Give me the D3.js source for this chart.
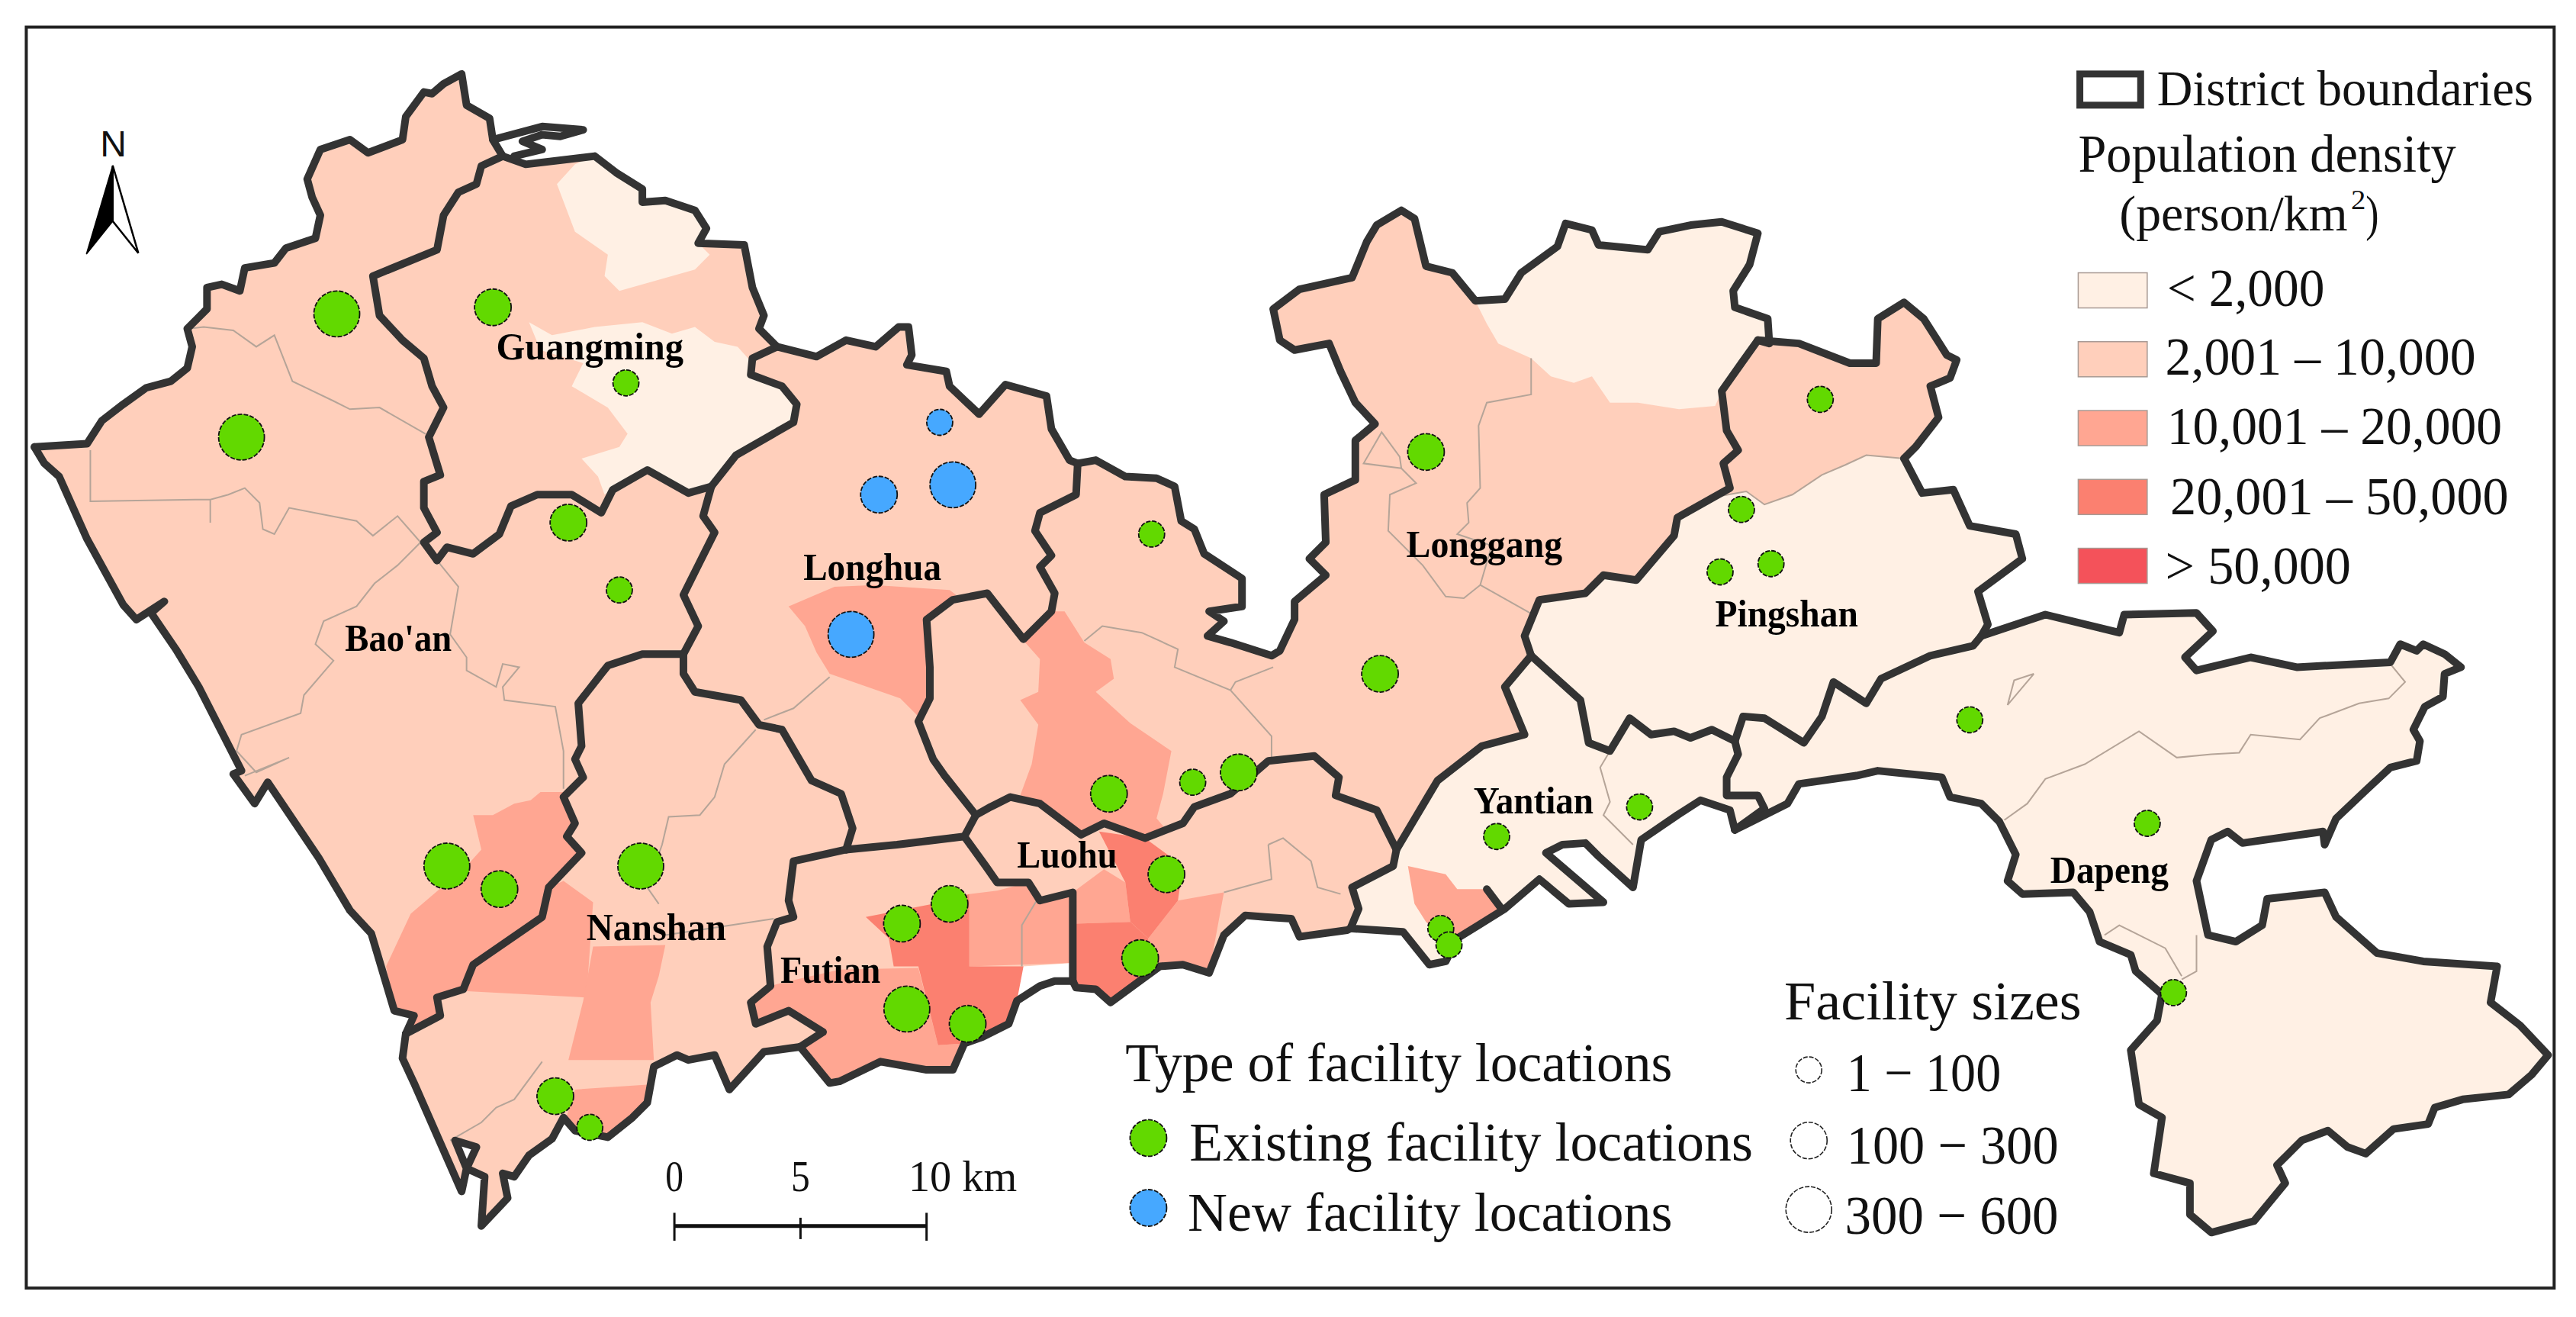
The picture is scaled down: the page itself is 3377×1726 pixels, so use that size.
<!DOCTYPE html>
<html>
<head>
<meta charset="utf-8">
<style>
  html, body { margin: 0; background: #fff; }
  svg { display: block; }
  text { font-family: "Liberation Serif", serif; fill: #111; }
  .district { font-weight: bold; fill: #000; }
</style>
<script src="https://cdn.jsdelivr.net/npm/d3@7"></script>
</head>
<body>
<svg id="map" width="3377" height="1726"></svg>
<script>

// district boundary arcs, shared between the polygons
var baoanNorth = [[21,272],[53,270],[62,256],[75,246],[89,236],[104,232],[114,224],[117,211],[114,200],[126,188],[126,175],[135,173],[146,177],[149,163],[167,160],[174,151],[192,145],[195,131],[190,120],[187,109],[195,91],[213,85],[224,93],[245,85],[247,71],[258,56],[263,57],[270,51],[281,45],[284,64],[298,72],[300,85],[306,95]];
var baoanGuangming = [[306,95],[293,101],[290,112],[279,117],[270,131],[266,152],[227,168],[231,192],[245,207],[258,218],[263,235],[270,248],[261,266],[268,289],[258,293],[258,309],[266,324],[258,330],[266,341]];
var guangmingSouth = [[266,341],[272,333],[288,337],[304,325],[311,308],[327,301],[348,301],[366,312],[373,298],[394,286],[419,300],[433,296]];
var baoanLonghua = [[433,296],[428,314],[435,324],[425,344],[416,362],[425,381],[416,398]];
var baoanNanshan = [[416,398],[391,398],[370,405],[366,410],[352,428],[354,454],[350,462],[355,473],[343,485],[350,501],[345,509],[354,519],[334,540],[330,558],[288,587],[282,602],[266,607],[268,618],[247,629]];
var baoanCoast = [[21,272],[27,282],[36,290],[53,328],[75,368],[83,377],[100,366],[92,373],[107,395],[121,418],[147,469],[142,471],[155,489],[163,476],[194,522],[213,554],[226,568],[240,615],[252,618],[247,629]];
var nanshanCoast = [[247,629],[245,644],[252,659],[281,725],[284,711],[277,694],[290,698],[284,711],[295,716],[293,746],[309,729],[306,714],[313,716],[322,703],[336,693],[343,680],[350,688],[370,692],[385,680],[394,671],[398,649],[412,642],[419,645],[435,642],[444,663],[465,640],[480,638],[487,637]];
var guangmingEast = [[306,95],[320,100],[362,95],[375,105],[391,115],[391,123],[405,122],[423,128],[430,139],[425,148],[453,149],[458,175],[465,192],[462,200],[473,211]];
var guangmingLonghua = [[473,211],[458,218],[457,228],[476,235],[485,246],[483,257],[448,277],[433,296]];
var longhuaNorth = [[473,211],[497,217],[515,207],[533,211],[547,199],[553,199],[555,216],[552,222],[576,226],[578,235],[596,252],[612,234],[637,241],[640,261],[651,280],[656,282]];
var longhuaEast = [[656,282],[655,301],[633,312],[630,323],[640,338],[633,345],[642,361],[640,372],[623,389],[608,370],[601,361],[580,365],[564,377],[566,406],[566,425],[559,439],[568,462],[575,472],[594,496]];
var luohuFutianTop = [[594,496],[587,509]];
var futianTop = [[587,509],[546,514],[515,517]];
var longhuaNanshan = [[416,398],[416,410],[423,421],[451,426],[462,441],[476,444],[494,475],[512,483],[519,504],[515,517]];
var nanshanFutian = [[515,517],[483,524],[480,548],[483,558],[473,561],[467,576],[469,600],[457,610],[460,623],[480,615],[501,628],[487,637]];
var futianCoast = [[487,637],[505,659],[511,658],[536,646],[564,651],[580,651],[587,635],[598,631],[614,623],[619,609],[633,600],[642,597],[653,597]];
var luohuFutian = [[587,509],[600,527],[607,537],[626,537],[633,548],[653,543],[653,597]];
var luohuCoast = [[653,597],[655,601],[667,602],[676,610],[695,596],[706,588],[720,587],[736,592],[745,569],[758,557],[770,558],[786,559],[791,570],[820,566],[822,565]];
var luohuYantian = [[850,517],[848,527],[823,540],[827,553],[822,565]];
var longgangLuohu = [[850,517],[838,493],[813,484],[815,473],[800,460],[772,463],[749,483],[727,491],[720,501],[697,510],[672,501],[658,508],[633,489],[615,485],[603,491],[594,496]];
var longgangNorth = [[656,282],[667,280],[685,290],[704,291],[715,296],[719,317],[727,322],[733,337],[756,352],[756,369],[736,372],[745,378],[735,387],[749,391],[774,399],[779,396],[788,377],[788,366],[807,350],[797,340],[807,330],[806,301],[825,292],[825,268],[837,258],[825,245],[816,226],[809,209],[788,213],[779,207],[775,188],[791,176],[823,169],[832,147],[838,137],[853,128],[861,133],[868,162],[884,166],[898,183],[916,182],[926,166],[948,150],[953,136],[969,140],[973,149],[1003,152],[1010,141],[1029,137],[1048,135],[1070,142],[1065,161],[1055,177],[1056,187],[1076,194],[1077,209],[1070,207]];
var longgangPingshan = [[1070,207],[1060,221],[1048,238],[1051,262],[1058,274],[1049,282],[1053,297],[1021,315],[1019,326],[996,353],[976,350],[965,361],[937,365],[928,387],[932,399]];
var yantianLonggang = [[932,399],[916,418],[928,447],[902,454],[875,475],[869,485],[850,517]];
var yantianPingshan = [[932,399],[962,426],[967,452],[980,457],[992,437],[1005,447],[1019,445],[1029,449],[1042,444],[1056,451]];
var yantianDapeng = [[1056,451],[1058,459],[1051,473],[1051,484],[1070,484],[1074,492],[1056,505]];
var yantianCoast = [[1056,505],[1053,493],[1035,487],[1021,496],[999,511],[994,540],[973,521],[965,513],[951,514],[941,519],[976,549],[955,550],[937,535],[916,553],[900,563],[887,571],[880,585],[870,587],[854,567],[822,565]];
var dapengCoast = [[1056,505],[1088,489],[1095,477],[1130,472],[1143,469],[1182,473],[1187,485],[1206,489],[1217,500],[1227,520],[1222,536],[1231,544],[1262,543],[1272,555],[1278,573],[1297,581],[1300,591],[1316,605],[1313,621],[1297,639],[1302,672],[1316,680],[1311,714],[1333,720],[1333,739],[1346,750],[1372,743],[1391,720],[1386,709],[1401,694],[1417,688],[1429,698],[1440,702],[1457,687],[1478,684],[1482,674],[1499,669],[1527,666],[1541,654],[1551,642],[1534,624],[1516,610],[1520,588],[1475,585],[1447,580],[1422,558],[1415,543],[1380,547],[1377,563],[1361,573],[1344,569],[1337,536],[1346,511],[1356,506],[1365,513],[1414,506],[1415,514],[1422,498],[1440,481],[1455,467],[1471,463],[1473,451],[1469,444],[1476,430],[1487,424],[1488,410],[1498,406],[1488,398],[1475,392],[1471,396],[1461,392],[1455,403],[1398,406],[1370,400],[1337,408],[1330,400],[1347,384],[1337,373],[1293,374],[1290,385],[1245,374],[1206,387]];
var pingshanDapeng = [[1206,387],[1201,393],[1175,399],[1145,413],[1136,428],[1116,415],[1109,436],[1098,452],[1074,437],[1061,436],[1056,451]];
var kengziNorth = [[1070,207],[1095,209],[1126,221],[1142,221],[1143,194],[1159,184],[1171,194],[1185,216],[1191,219],[1187,230],[1175,235],[1180,254],[1166,272],[1159,279]];
var pingshanEast = [[1159,279],[1170,300],[1189,298],[1199,320],[1227,325],[1231,340],[1204,360],[1210,380],[1206,387]];
var bayStub = [[300,85],[330,77],[355,79],[341,83],[330,82],[318,86],[330,91],[313,95]];
var portStub = [[905,541],[914,553]];

// sub-district lines
var kengziSouth = [[1159,279],[1136,277],[1123,283],[1109,289],[1091,301],[1074,307],[1063,299],[1046,302]];
var subLines = [
  [[114,200],[124,199],[142,201],[156,211],[167,204],[178,232],[203,244],[213,249],[231,248],[259,264]],
  [[55,274],[55,305],[121,304],[128,304],[128,318],[128,304],[139,301],[149,297],[158,306],[160,322],[167,325],[176,309],[217,317],[227,326],[242,314],[256,330]],
  [[256,330],[242,344],[228,355],[217,369],[197,378],[192,392],[203,402],[185,423],[183,434],[147,447],[144,457],[156,470],[176,461],[149,472]],
  [[266,341],[279,357],[274,386],[284,400],[284,408],[302,418],[306,404],[316,406],[306,418],[307,426],[338,430],[343,457],[343,480]],
  [[460,444],[441,465],[435,485],[426,496],[407,497],[403,514],[394,540],[401,550]],
  [[405,569],[471,559]],
  [[330,646],[313,669],[302,674],[293,683],[274,694]],
  [[465,438],[483,431],[505,412]],
  [[660,390],[671,381],[695,385],[717,395],[715,406],[749,420],[774,448],[774,464]],
  [[775,406],[752,415],[749,420]],
  [[932,218],[932,240],[905,245],[900,259],[901,297],[893,306],[894,318],[887,325],[908,332],[901,356],[891,364],[880,363],[866,344],[845,323],[846,301],[862,294],[853,285],[830,282],[841,263],[852,278],[853,285]],
  [[901,356],[933,374]],
  [[772,514],[781,510],[798,524],[802,540],[816,544]],
  [[772,514],[774,535],[745,543]],
  [[1220,499],[1234,489],[1245,474],[1269,465],[1302,445],[1325,461],[1346,459],[1363,458],[1370,447],[1400,450],[1412,437],[1436,428],[1454,425],[1464,415],[1455,404]],
  [[1238,410],[1222,429],[1226,414],[1238,410]],
  [[1281,569],[1290,563],[1318,577],[1328,594]],
  [[1337,569],[1337,591],[1328,596]],
  [[980,457],[974,467],[980,488],[976,496],[994,514]],
  [[631,548],[622,563],[622,588]]
];

// density zones inside the districts
var zoneGuangmingN = [[350,100],[339,112],[350,141],[370,155],[368,168],[377,177],[423,164],[432,155],[425,148],[430,139],[423,128],[405,122],[391,123],[391,115],[375,105],[362,95]];
var zoneGuangmingS = [[322,196],[336,204],[362,199],[391,196],[409,203],[423,199],[435,208],[449,211],[458,221],[457,228],[476,235],[485,246],[483,257],[448,277],[433,296],[419,300],[394,286],[373,298],[368,301],[364,290],[354,279],[377,272],[382,264],[370,248],[348,235],[355,221],[329,213]];
var zoneLonggangN = [[898,183],[905,197],[912,209],[932,218],[944,229],[958,233],[969,229],[980,245],[997,245],[1022,249],[1044,247],[1048,238],[1060,221],[1070,207],[1077,209],[1076,194],[1056,187],[1055,177],[1065,161],[1070,142],[1048,135],[1029,137],[1010,141],[1003,152],[973,149],[969,140],[953,136],[948,150],[926,166],[916,182]];
var zoneBaoanSE = [[343,482],[329,482],[323,487],[313,489],[300,496],[288,496],[293,517],[284,527],[250,556],[235,588],[240,615],[252,618],[247,629],[268,618],[266,607],[282,602],[288,587],[330,558],[334,540],[354,519],[345,509],[350,501],[343,485]];
var zoneNanshanA = [[343,536],[361,549],[357,607],[282,603],[288,587],[330,558],[334,540]];
var zoneNanshanB = [[361,576],[405,575],[401,594],[396,610],[398,645],[346,645],[355,609]];
var zoneNanshanC = [[394,660],[350,663],[345,679],[350,688],[370,692],[385,680],[394,671]];
var zoneLonghua = [[480,369],[508,357],[532,356],[578,359],[582,362],[564,377],[566,406],[566,425],[559,436],[548,425],[505,410],[497,397],[490,381]];
var zoneBuji = [[648,372],[660,391],[676,401],[678,413],[667,421],[688,440],[713,457],[708,483],[704,498],[710,505],[697,510],[672,501],[658,508],[633,489],[621,484],[628,465],[632,441],[621,426],[632,421],[633,401],[624,391],[640,372]];
var zoneLuohuA = [[653,543],[672,529],[685,537],[688,561],[655,562]];
var zoneLuohuB = [[669,506],[697,510],[720,527],[717,548],[699,571],[688,561],[685,537]];
var zoneLuohuC = [[655,562],[688,561],[699,571],[695,596],[676,610],[667,602],[655,601]];
var zoneLuohuD = [[699,571],[717,548],[745,543],[736,592],[720,587],[706,588],[695,596]];
var zoneFutianA = [[527,558],[568,550],[590,544],[590,588],[623,588],[623,600],[614,623],[598,631],[587,635],[571,636],[559,588],[544,588],[541,571]];
var zoneFutianB = [[590,544],[607,542],[626,537],[633,548],[653,543],[653,586],[590,588]];
var zoneFutianC = [[476,598],[511,590],[559,589],[571,636],[587,635],[580,651],[564,651],[536,646],[511,658],[505,659],[487,637],[501,628],[480,615],[460,623],[457,610],[469,600]];
var zoneYantianS = [[857,527],[880,532],[887,541],[907,541],[916,553],[900,563],[887,571],[878,570],[868,561],[861,550]];
var seaGap = [[623,588],[653,586],[653,597],[642,597],[633,600],[619,609]];

var kengziZone = [[1053,297],[1049,282],[1058,274],[1051,262],[1048,238],[1060,221]];

// facilities: x, y, size (persons, estimated from the symbol class)
var existingSites = [[205,191,450],[147,266,450],[272,527,450],[390,527,450],[552,614,450],
  [300,187,200],[346,318,200],[304,541,200],[675,483,200],[754,470,200],[710,532,200],[694,583,200],[549,562,200],[578,550,200],[589,623,200],[338,667,200],[868,275,200],[840,410,200],
  [381,233,60],[377,359,60],[701,325,60],[726,476,60],[998,491,60],[911,509,60],[877,565,60],[882,575,60],[359,686,60],[1108,243,60],[1060,310,60],[1047,348,60],[1078,343,60],[1199,438,60],[1307,501,60],[1323,604,60]];
var newSites = [[572,257,60],[535,301,200],[580,295,450],[518,386,450]];

var districtLabels = [
  ["Guangming",302,416,218.5],["Bao'an",210,275,396],["Longhua",489,573,353],["Longgang",856,951,339],
  ["Pingshan",1044,1131,381],["Yantian",897,970,495],["Dapeng",1248,1320,537],["Luohu",619,680,528],
  ["Nanshan",357,442,572],["Futian",475,536,598]
];

var densityLabels = ["< 2,000","2,001 – 10,000","10,001 – 20,000","20,001 – 50,000","> 50,000"];
var densityColors = ["#fff0e4","#ffcfbb","#ffa692","#fb8070","#f4525a"];
var sizeLabels = ["1 − 100","100 − 300","300 − 600"];
var sizeSamples = [60,200,450];
var scaleTicks = [0,5,10];

var GREEN = "#62d900", BLUE = "#46a8ff", LINE = "#333333";

var svg = d3.select("#map");
var x = d3.scaleLinear().domain([0,1568]).range([0,3377]);
var y = d3.scaleLinear().domain([0,801.4]).range([0,1726]);
var radius = d3.scaleThreshold().domain([100,300]).range([17,24,30]);
var km = d3.scaleLinear().domain([0,10]).range([x(410.5),x(564)]);
var density = d3.scaleOrdinal().domain(d3.range(5)).range(densityColors);

var line = d3.line().x(function(d) { return x(d[0]); }).y(function(d) { return y(d[1]); });
var rev = function(a) { return a.slice().reverse(); };
var ring = function() { return line(d3.merge(arguments)) + "Z"; };

var fills = svg.append("g");
var addFill = function(d, level) { fills.append("path").attr("d", d).attr("fill", density(level)); };

// district base fills
addFill(ring(baoanNorth, baoanGuangming, guangmingSouth, baoanLonghua, baoanNanshan, rev(baoanCoast)), 1);
addFill(ring(rev(baoanGuangming), guangmingEast, guangmingLonghua, rev(guangmingSouth)), 1);
addFill(ring(rev(guangmingLonghua), longhuaNorth, longhuaEast, luohuFutianTop, futianTop, rev(longhuaNanshan), rev(baoanLonghua)), 1);
addFill(ring(rev(baoanNanshan), longhuaNanshan, nanshanFutian, rev(nanshanCoast)), 1);
addFill(ring(futianTop.slice().reverse(), luohuFutian, rev(futianCoast), rev(nanshanFutian)), 1);
addFill(ring(longgangNorth, longgangPingshan, yantianLonggang, longgangLuohu, rev(longhuaEast)), 1);
addFill(ring(rev(longgangLuohu), luohuYantian, rev(luohuCoast), rev(luohuFutian), rev(luohuFutianTop)), 1);
addFill(ring(rev(yantianLonggang), yantianPingshan, yantianDapeng, yantianCoast, rev(luohuYantian)), 0);
addFill(ring(yantianDapeng, dapengCoast, pingshanDapeng), 0);
addFill(ring(kengziNorth, pingshanEast, pingshanDapeng, rev(yantianPingshan), rev(longgangPingshan)), 0);

// zones on top
[zoneGuangmingN, zoneGuangmingS, zoneLonggangN].forEach(function(z) { addFill(ring(z), 0); });
addFill(ring(kengziNorth, kengziSouth, kengziZone), 1);
[zoneBaoanSE, zoneNanshanA, zoneNanshanB, zoneNanshanC, zoneLonghua, zoneBuji, zoneLuohuA, zoneLuohuD, zoneFutianB, zoneFutianC, zoneYantianS].forEach(function(z) { addFill(ring(z), 2); });
[zoneLuohuB, zoneLuohuC, zoneFutianA].forEach(function(z) { addFill(ring(z), 3); });
fills.append("path").attr("d", ring(seaGap)).attr("fill", "#fff");

// thin sub-district lines
svg.append("g").selectAll("path").data(subLines.concat([kengziSouth]))
  .join("path")
  .attr("d", line)
  .attr("fill", "none")
  .attr("stroke", "#b5a498")
  .attr("stroke-width", 2);

// thick district boundaries
var arcs = [baoanNorth, baoanGuangming, guangmingSouth, baoanLonghua, baoanNanshan, baoanCoast, nanshanCoast,
  guangmingEast, guangmingLonghua, longhuaNorth, longhuaEast, luohuFutianTop, futianTop, longhuaNanshan, nanshanFutian,
  futianCoast, luohuFutian, luohuCoast, luohuYantian, longgangLuohu, longgangNorth, longgangPingshan, yantianLonggang,
  yantianPingshan, yantianDapeng, yantianCoast, dapengCoast, pingshanDapeng, kengziNorth, pingshanEast, bayStub, portStub];
svg.append("g").selectAll("path").data(arcs)
  .join("path")
  .attr("d", line)
  .attr("fill", "none")
  .attr("stroke", LINE)
  .attr("stroke-width", 10)
  .attr("stroke-linejoin", "round")
  .attr("stroke-linecap", "round");

// facility dots
var dots = function(sites, color) {
  svg.append("g").selectAll("circle").data(sites)
    .join("circle")
    .attr("cx", function(d) { return x(d[0]); })
    .attr("cy", function(d) { return y(d[1]); })
    .attr("r", function(d) { return radius(d[2]); })
    .attr("fill", color)
    .attr("stroke", "#111")
    .attr("stroke-width", 1.8)
    .attr("stroke-dasharray", "6 2");
};
dots(existingSites, GREEN);
dots(newSites, BLUE);

// text fitted to the width it has in the picture
var label = function(txt, x0, x1, base, size, cls) {
  return svg.append("text")
    .attr("class", cls || null)
    .attr("x", x(x0))
    .attr("y", y(base))
    .attr("font-size", size)
    .attr("textLength", x(x1) - x(x0))
    .attr("lengthAdjust", "spacingAndGlyphs")
    .text(txt);
};

districtLabels.forEach(function(d) { label(d[0], d[1], d[2], d[3], 50, "district"); });

// legend: boundaries and density
svg.append("rect")
  .attr("x", x(1266)).attr("y", y(45)).attr("width", x(1303) - x(1266)).attr("height", y(64) - y(45))
  .attr("fill", "#fff").attr("stroke", LINE).attr("stroke-width", 9);
label("District boundaries", 1313, 1542, 64, 66);
label("Population density", 1265, 1495, 104.5, 70);
label("(person/km", 1290, 1429, 140, 66);
label("2", 1431, 1440, 127, 36);
label(")", 1440, 1448, 140, 66);

var swatchY = d3.scaleBand().domain(densityLabels).range([y(166), y(355) + 0]).paddingInner(0.49);
var densityX = [[1319,1415],[1318,1507],[1319,1523],[1321,1527],[1318,1431]];
var densityBase = [186,228,270,313,355];
densityLabels.forEach(function(d, i) {
  svg.append("rect")
    .attr("x", x(1265)).attr("y", swatchY(d))
    .attr("width", x(1307) - x(1265)).attr("height", swatchY.bandwidth())
    .attr("fill", densityColors[i])
    .attr("stroke", "#a89a94").attr("stroke-width", 1.5);
  label(d, densityX[i][0], densityX[i][1], densityBase[i], 70);
});

// legend: sizes
label("Facility sizes", 1086, 1267, 620.5, 72);
var sizeY = [651,694,736], sizeX = [[1124,1218],[1124,1253],[1123,1253]], sizeBase = [664,708,751];
sizeLabels.forEach(function(d, i) {
  svg.append("circle")
    .attr("cx", x(1101)).attr("cy", y(sizeY[i])).attr("r", radius(sizeSamples[i]))
    .attr("fill", "#fff").attr("stroke", "#222").attr("stroke-width", 1.6).attr("stroke-dasharray", "6 2");
  label(d, sizeX[i][0], sizeX[i][1], sizeBase[i], 72);
});

// legend: type
label("Type of facility locations", 685, 1018, 658, 72);
label("Existing facility locations", 724, 1067, 706, 72);
label("New facility locations", 723, 1018, 749, 72);
dots([[699,692.5,200]], GREEN);
dots([[699,735,200]], BLUE);

// scale bar
var bar = svg.append("g");
bar.append("line").attr("x1", km(0)).attr("x2", km(10)).attr("y1", y(746)).attr("y2", y(746))
  .attr("stroke", "#111").attr("stroke-width", 5);
bar.selectAll("line.tick").data(scaleTicks).join("line")
  .attr("class", "tick")
  .attr("x1", function(d) { return km(d); }).attr("x2", function(d) { return km(d); })
  .attr("y1", function(d) { return d === 5 ? y(741) : y(738); })
  .attr("y2", function(d) { return d === 5 ? y(754) : y(755); })
  .attr("stroke", "#111").attr("stroke-width", 3);
label("0", 405, 416, 725, 58);
label("5", 481.5, 493, 725, 58);
label("10 km", 553, 619, 725, 58);

// north arrow
svg.append("text").attr("x", x(69)).attr("y", y(95)).attr("text-anchor", "middle")
  .attr("font-size", 48).style("font-family", "'Liberation Sans', sans-serif").text("N");
svg.append("path").attr("d", ring([[68.6,100.7],[68.6,134.6],[52.6,154.6]])).attr("fill", "#000").attr("stroke", "#000").attr("stroke-width", 1.5);
svg.append("path").attr("d", ring([[68.6,100.7],[84.2,154],[68.6,134.6]])).attr("fill", "#fff").attr("stroke", "#000").attr("stroke-width", 2.5);

// frame
svg.append("rect")
  .attr("x", x(16)).attr("y", y(16.5)).attr("width", x(1554.7) - x(16)).attr("height", y(783.8) - y(16.5))
  .attr("fill", "none").attr("stroke", "#222").attr("stroke-width", 4);
</script>
</body>
</html>
